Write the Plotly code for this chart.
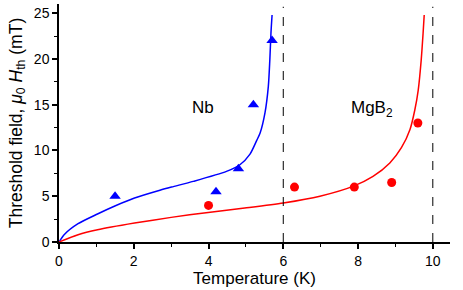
import plotly.graph_objects as go

# Fitted curves
nb_curve_T = [0.0, 0.15, 0.51, 1.03, 1.51, 2.02, 2.70, 3.01, 3.59, 4.48, 4.84, 5.11, 5.29, 5.38, 5.51, 5.60, 5.64, 5.67, 5.70]
nb_curve_H = [0.0, 0.85, 2.0, 3.06, 3.96, 4.8, 5.65, 6.0, 6.62, 7.71, 8.44, 9.6, 11.1, 11.9, 14.1, 17.0, 19.9, 22.8, 24.8]

mgb2_curve_T = [0.0, 0.51, 1.03, 2.02, 3.0, 3.99, 4.97, 6.0, 6.98, 7.88, 8.40, 8.85, 9.16, 9.39, 9.52, 9.61, 9.69, 9.74, 9.77]
mgb2_curve_H = [0.0, 0.80, 1.34, 2.07, 2.69, 3.23, 3.71, 4.26, 5.0, 6.1, 7.16, 8.63, 10.3, 12.3, 14.45, 16.6, 19.9, 22.8, 24.8]

# Measured points
nb_pts_T = [1.5, 4.2, 4.8, 5.2, 5.7]
nb_pts_H = [5.0, 5.5, 8.0, 15.0, 22.0]

mgb2_pts_T = [4.0, 6.3, 7.9, 8.9, 9.6]
mgb2_pts_H = [4.0, 6.0, 6.0, 6.5, 13.0]

# Critical temperatures (dashed lines)
tc_lines = [6.0, 10.0]

labels = ["Nb", "MgB<sub>2</sub>"]
label_T = [3.85, 8.37]
label_H = [14.7, 14.5]

FONT = "Liberation Sans, Arial, sans-serif"
BLUE = "#0000ff"
RED = "#ff0000"

fig = go.Figure()

fig.add_trace(go.Scatter(x=nb_curve_T, y=nb_curve_H, mode="lines",
                         line=dict(color=BLUE, width=1.5, shape="spline", smoothing=0.7),
                         showlegend=False, hoverinfo="skip"))
fig.add_trace(go.Scatter(x=mgb2_curve_T, y=mgb2_curve_H, mode="lines",
                         line=dict(color=RED, width=1.5, shape="spline", smoothing=0.7),
                         showlegend=False, hoverinfo="skip"))
fig.add_trace(go.Scatter(x=nb_pts_T, y=nb_pts_H, mode="markers",
                         marker=dict(symbol="triangle-up", size=10, color=BLUE),
                         showlegend=False))
fig.add_trace(go.Scatter(x=mgb2_pts_T, y=mgb2_pts_H, mode="markers",
                         marker=dict(symbol="circle", size=9, color=RED),
                         showlegend=False))

for tc in tc_lines:
    fig.add_shape(type="line", xref="x", yref="y", x0=tc, x1=tc, y0=0, y1=25.7,
                  line=dict(color="black", width=1, dash="dash"))

for txt, tx, ty in zip(labels, label_T, label_H):
    fig.add_annotation(x=tx, y=ty, text=txt, showarrow=False,
                       font=dict(family=FONT, size=17, color="black"))

axis_common = dict(
    showline=True, linecolor="black", linewidth=1.5, mirror=False,
    showgrid=False, zeroline=False,
    ticks="outside", ticklen=5, tickwidth=1.5, tickcolor="black",
    tickfont=dict(family=FONT, size=14, color="black"),
)

fig.update_xaxes(range=[0, 10.46], tick0=0, dtick=2,
                 minor=dict(ticks="outside", ticklen=3, tickwidth=1.2, tickcolor="black", dtick=1),
                 title=dict(text="Temperature (K)", font=dict(family=FONT, size=17, color="black"), standoff=4),
                 **axis_common)
fig.update_yaxes(range=[0, 26], tick0=0, dtick=5,
                 minor=dict(ticks="outside", ticklen=3, tickwidth=1.2, tickcolor="black", dtick=2.5),
                 title=dict(text="Threshold field, <i>μ</i><sub>0</sub> <i>H</i><sub>th</sub> (mT)",
                            font=dict(family=FONT, size=17.5, color="black"), standoff=7),
                 **axis_common)

fig.update_layout(width=463, height=290,
                  margin=dict(l=59, r=13, t=4, b=48),
                  plot_bgcolor="white", paper_bgcolor="white",
                  font=dict(family=FONT, color="black"))

fig.write_html("out.html", config={"displayModeBar": False},
               post_script="document.body.style.margin='0';document.body.style.overflow='hidden';")
